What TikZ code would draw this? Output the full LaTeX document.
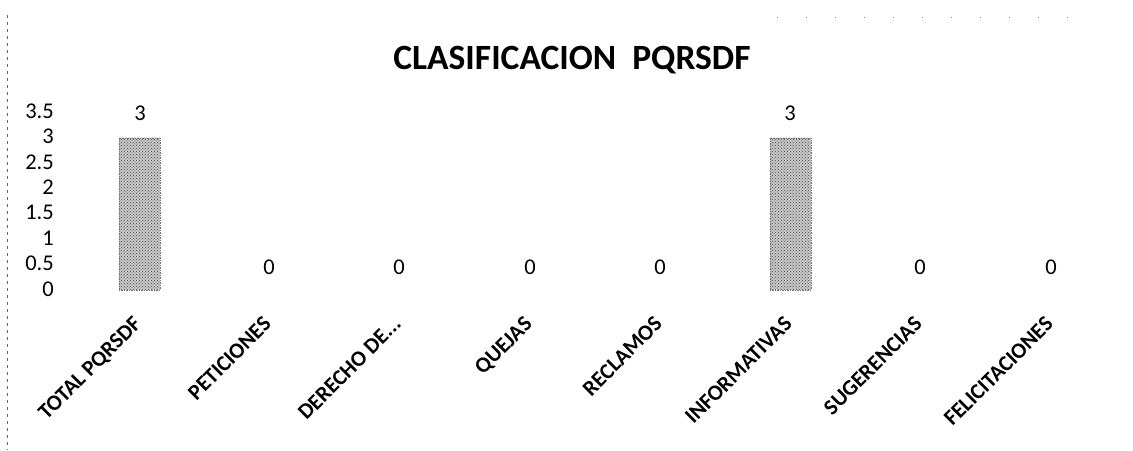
\documentclass[tikz,border=0pt]{standalone}
\usepackage{fontspec}
\setmainfont{Carlito}
\usetikzlibrary{patterns}
\begin{document}
\begin{tikzpicture}[x=1pt,y=1pt,
  ttl/.style={font=\bfseries\fontsize{35.5}{40}\selectfont, anchor=base},
  ylab/.style={font=\fontsize{22.5}{26}\selectfont, anchor=east, inner sep=0pt},
  vlab/.style={font=\fontsize{22.5}{26}\selectfont, anchor=south, inner sep=0pt},
  clab/.style={font=\bfseries\fontsize{22}{25}\selectfont, rotate=45, anchor=north east, inner sep=0pt},
  barbox/.style={fill=black!22, draw=black!55, line width=0.8pt, dash pattern=on 1.5pt off 1pt},
  bardots/.style={pattern=crosshatch dots, pattern color=black!70},
  frame/.style={draw=black!60, line width=0.6pt, dash pattern=on 3pt off 4pt}]
\useasboundingbox (0,0) rectangle (1133,450);
% frame traces
\draw[frame] (7,435) -- (7,0);
\draw[draw=black!45, line width=0.6pt, dash pattern=on 1pt off 28pt] (777,433) -- (1075,433);
% title
\node[ttl] (title) at (572,380) {CLASIFICACION\ \ PQRSDF};
% y axis labels (zero at y=160, 50.8 per unit)
\foreach \v/\t [count=\i] in {0/0,0.5/0.5,1/1,1.5/1.5,2/2,2.5/2.5,3/3,3.5/3.5}
  \node[ylab] (y\i) at (54,{161+50.8*\v}) {\t};
% bars
\path[barbox] (119,160) rectangle (160,312);
\path[bardots] (119,160) rectangle (160,312);
\path[barbox] (770,160) rectangle (811,312);
\path[bardots] (770,160) rectangle (811,312);
% value labels
\node[vlab] (v1) at (140,329) {3};
\node[vlab] (v2) at (269,175) {0};
\node[vlab] (v3) at (399,175) {0};
\node[vlab] (v4) at (530,175) {0};
\node[vlab] (v5) at (660,175) {0};
\node[vlab] (v6) at (790,329) {3};
\node[vlab] (v7) at (920,175) {0};
\node[vlab] (v8) at (1051,175) {0};
% category labels
\node[clab] (c1) at (132,135) {TOTAL PQRSDF};
\node[clab] (c2) at (262,135) {PETICIONES};
\node[clab] (c3) at (392,135) {DERECHO DE...};
\node[clab] (c4) at (523,135) {QUEJAS};
\node[clab] (c5) at (653,135) {RECLAMOS};
\node[clab] (c6) at (783,135) {INFORMATIVAS};
\node[clab] (c7) at (913,135) {SUGERENCIAS};
\node[clab] (c8) at (1044,135) {FELICITACIONES};
\end{tikzpicture}
\end{document}
